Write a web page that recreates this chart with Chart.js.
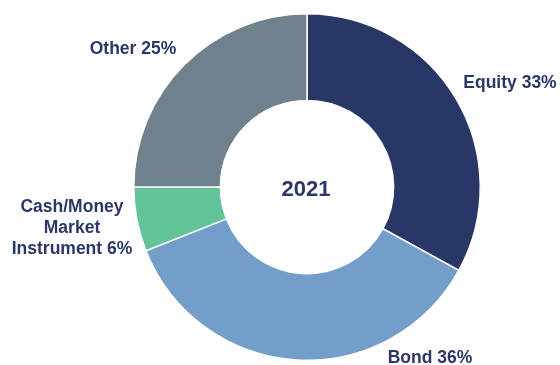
<!DOCTYPE html>
<html>
<head>
<meta charset="utf-8">
<script src="https://cdn.jsdelivr.net/npm/chart.js@4.4.1/dist/chart.umd.min.js"></script>
<style>
  html, body { margin: 0; padding: 0; background: #fff; }
  #wrap { width: 560px; height: 365px; position: relative; }
</style>
</head>
<body>
<div id="wrap"><canvas id="chart"></canvas></div>
<script>
const categorias = ["Equity", "Bond", "Cash/Money Market Instrument", "Other"];
const porcentajes = [33, 36, 6, 25];
const etiquetas = [["Equity 33%"], ["Bond 36%"], ["Cash/Money", "Market", "Instrument 6%"], ["Other 25%"]];
const anio = "2021";

const colorTexto = "#2b3866";
const fuente = "Arial, 'Liberation Sans', sans-serif";

// where each label sits, measured from the doughnut centre (first line baseline)
const posEtiquetas = [[203, -99], [123, 176], [-235, 25], [-174, -133]];

const etiquetasPlugin = {
  id: "etiquetas",
  afterDraw(chart) {
    const ctx = chart.ctx;
    const arc = chart.getDatasetMeta(0).data[0];
    const cx = arc.x, cy = arc.y;
    ctx.save();
    ctx.fillStyle = colorTexto;
    ctx.textAlign = "center";
    ctx.textBaseline = "alphabetic";
    ctx.font = "bold 17.5px " + fuente;
    etiquetas.forEach((lineas, i) => {
      const [dx, dy] = posEtiquetas[i];
      lineas.forEach((txt, j) => {
        ctx.fillText(txt, cx + dx, cy + dy + j * 21);
      });
    });
    ctx.font = "bold 22px " + fuente;
    ctx.fillText(anio, cx - 1, cy + 8.5);
    ctx.restore();
  }
};

const ctx = document.getElementById("chart").getContext("2d");
const data = {
  labels: categorias,
  datasets: [{
    data: porcentajes,
    backgroundColor: ["#283766", "#729ec9", "#62c29a", "#6e818d"],
    borderColor: "#ffffff",
    borderWidth: 1.5
  }]
};
const config = {
  type: "doughnut",
  data: data,
  options: {
    responsive: false,
    animation: false,
    cutout: "50%",
    layout: { padding: { top: 13, bottom: 4, left: 133, right: 79 } },
    plugins: {
      legend: { display: false },
      tooltip: { enabled: false }
    }
  },
  plugins: [etiquetasPlugin]
};

const canvas = document.getElementById("chart");
canvas.width = 560;
canvas.height = 365;
const chart = new Chart(ctx, config);
</script>
</body>
</html>
